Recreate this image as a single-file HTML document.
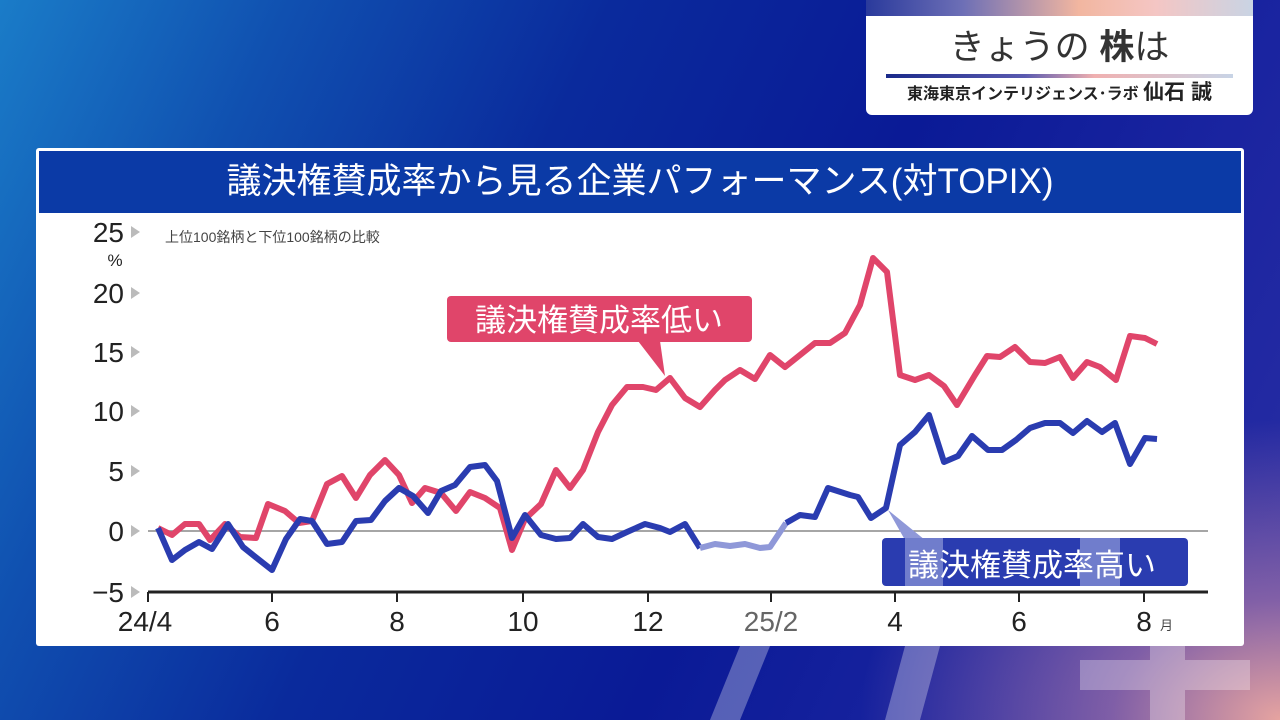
<!DOCTYPE html>
<html><head><meta charset="utf-8"><style>
body{margin:0;width:1280px;height:720px;overflow:hidden;font-family:"Liberation Sans","Noto Sans CJK JP",sans-serif;
background:linear-gradient(115deg,#1a7cc8 0%,#1050b0 18%,#0a2a9c 38%,#0a1a96 60%,#1a24a0 80%,#2a2ea4 100%);position:relative}
.bg2{position:absolute;inset:0;background:radial-gradient(ellipse 420px 300px at 100% 100%,rgba(240,170,160,.95) 0,rgba(190,130,170,.6) 40%,rgba(80,60,160,0) 100%)}
.card{position:absolute;left:866px;top:0;width:387px;height:115px;background:#fff;border-radius:0 0 6px 6px}
.card .top{height:16px;background:linear-gradient(90deg,#2a3a9c,#6d6fb6 25%,#f2b6a0 55%,#f4c6c4 75%,#c9d4e4)}
.panel{position:absolute;left:36px;top:148px;width:1208px;height:498px;background:#fff;border-radius:3px}
.title{position:absolute;left:3px;top:3px;width:1202px;height:62px;background:#0b3aa6;color:#fff;font-size:35px;line-height:62px;text-align:center}
</style></head><body>
<div class="bg2"></div>
<svg width="1280" height="720" style="position:absolute;left:0;top:0"><g fill="#fff" opacity=".3">
<path d="M740,646 L770,646 L740,720 L710,720z"/><path d="M905,646 L940,646 L920,720 L885,720z"/><path d="M1080,660 L1250,660 L1250,690 L1080,690z"/><path d="M1150,620 L1185,620 L1185,720 L1150,720z"/></g></svg>
<div class="card"><div class="top"></div>
<div style="text-align:center;font-size:35px;color:#333;line-height:44px;margin-top:10px">きょうの <b>株</b>は</div>
<div style="margin:4px 20px 0 20px;height:4px;background:linear-gradient(90deg,#1a2a8a,#5a5ab0 40%,#f0b0b0 60%,#c8d4e6)"></div>
<div style="text-align:center;font-size:16px;font-weight:bold;color:#222;line-height:30px">東海東京インテリジェンス･ラボ <span style="font-size:21px">仙石 誠</span></div>
</div>
<div class="panel"><div class="title">議決権賛成率から見る企業パフォーマンス(対TOPIX)</div></div>
<svg width="1280" height="720" style="position:absolute;left:0;top:0" font-family="Liberation Sans, Noto Sans CJK JP, sans-serif">
<g fill="#222" font-size="28" text-anchor="end">
<text x="124" y="242">25</text><text x="124" y="303">20</text><text x="124" y="362">15</text><text x="124" y="421">10</text><text x="124" y="481">5</text><text x="124" y="541">0</text><text x="124" y="602">−5</text>
</g>
<text x="115" y="266" font-size="17" fill="#222" text-anchor="middle">%</text>
<g fill="#bbb"><path d="M131,226l9,6l-9,6z"/><path d="M131,287l9,6l-9,6z"/><path d="M131,346l9,6l-9,6z"/><path d="M131,405l9,6l-9,6z"/><path d="M131,465l9,6l-9,6z"/><path d="M131,525l9,6l-9,6z"/><path d="M131,586l9,6l-9,6z"/></g>
<text x="165" y="242" font-size="14" fill="#444">上位100銘柄と下位100銘柄の比較</text>
<line x1="148" y1="531" x2="1208" y2="531" stroke="#888" stroke-width="1.5"/>
<line x1="148" y1="592" x2="1208" y2="592" stroke="#222" stroke-width="3"/>
<g stroke="#222" stroke-width="2"><line x1="148" y1="592" x2="148" y2="602"/><line x1="272" y1="592" x2="272" y2="602"/><line x1="397" y1="592" x2="397" y2="602"/><line x1="523" y1="592" x2="523" y2="602"/><line x1="648" y1="592" x2="648" y2="602"/><line x1="771" y1="592" x2="771" y2="602"/><line x1="895" y1="592" x2="895" y2="602"/><line x1="1019" y1="592" x2="1019" y2="602"/><line x1="1144" y1="592" x2="1144" y2="602"/></g>
<g fill="#222" font-size="28" text-anchor="middle">
<text x="145" y="631">24/4</text><text x="272" y="631">6</text><text x="397" y="631">8</text><text x="523" y="631">10</text><text x="648" y="631">12</text><text x="771" y="631" fill="#666">25/2</text><text x="895" y="631">4</text><text x="1019" y="631">6</text><text x="1144" y="631">8</text></g>
<text x="1160" y="630" font-size="13" fill="#444">月</text>
<polyline fill="none" stroke="#e0456a" stroke-width="6" stroke-linejoin="round" points="158,528 172,535 185,524 199,524 210,540 225,524 240,537 256,538 268,504 285,511 299,523 312,521 327,484 342,476 356,498 370,475 385,460 399,475 412,503 425,488 441,493 456,511 470,492 485,498 500,508 512,550 525,519 541,504 556,470 570,488 583,470 598,432 612,405 627,387 643,387 656,390 670,378 685,398 700,407 715,390 725,380 740,370 755,379 770,355 785,367 800,355 815,343 830,343 845,333 860,305 873,258 887,272 900,375 915,380 929,375 944,386 957,405 975,375 987,356 1000,357 1015,347 1030,362 1045,363 1060,357 1073,378 1087,362 1100,367 1116,380 1130,336 1145,338 1157,344"/>
<polyline fill="none" stroke="#2a3cb0" stroke-width="6" stroke-linejoin="round" points="158,528 172,560 185,550 199,542 212,549 228,524 243,547 258,559 272,570 286,539 300,519 312,521 327,544 342,542 356,521 371,520 385,501 399,488 413,496 428,513 441,491 455,485 470,467 485,465 497,481 512,538 525,515 541,535 556,539 570,538 583,524 598,537 612,539 627,532 645,524 660,528 670,532 685,524 700,548"/>
<polyline fill="none" stroke="#8f98d8" stroke-width="6" stroke-linejoin="round" points="700,548 715,544 730,546 745,544 760,548 770,547 786,523"/>
<polyline fill="none" stroke="#2a3cb0" stroke-width="6" stroke-linejoin="round" points="786,523 800,515 815,517 828,488 850,495 858,497 871,518 886,508 900,445 915,432 929,415 944,462 958,456 972,436 988,450 1002,450 1016,440 1030,428 1045,423 1060,423 1073,433 1087,421 1102,432 1115,423 1130,464 1145,438 1157,439"/>
<rect x="447" y="296" width="305" height="46" rx="4" fill="#e0456a"/>
<path d="M638,341 L665,376 L660,341z" fill="#e0456a"/>
<text x="599" y="331" font-size="31" fill="#fff" text-anchor="middle">議決権賛成率低い</text>
<path d="M888,510 L925,540 L905,540z" fill="#8f98d8"/>
<rect x="882" y="538" width="306" height="48" rx="4" fill="#2a3cb0"/>
<rect x="905" y="538" width="38" height="48" fill="#8f98d8" opacity=".7"/>
<rect x="1080" y="538" width="40" height="48" fill="#8f98d8" opacity=".7"/>
<text x="1032" y="576" font-size="31" fill="#fff" text-anchor="middle">議決権賛成率高い</text>
</svg>
</body></html>
